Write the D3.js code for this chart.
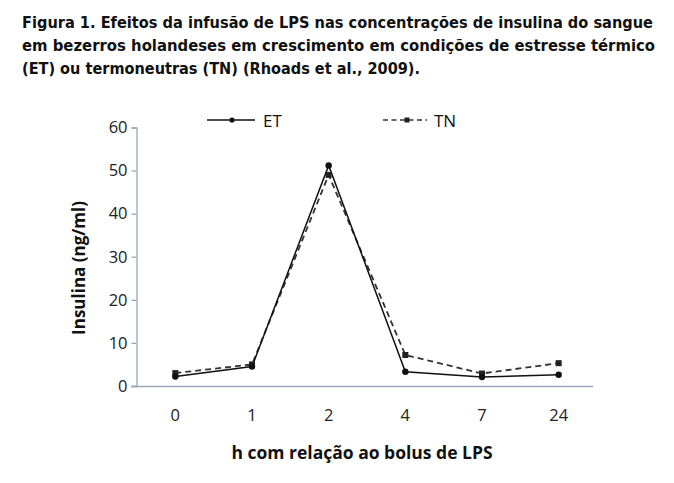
<!DOCTYPE html>
<html>
<head>
<meta charset="utf-8">
<script src="https://cdn.jsdelivr.net/npm/d3@7"></script>
<style>
  body { margin: 0; background: #fff; }
  svg { display: block; }
</style>
</head>
<body>
<div id="chart"></div>
<script>
// Data
var hours = ["0", "1", "2", "4", "7", "24"];
var etValues = [2.2, 4.5, 51.2, 3.3, 2.1, 2.6];
var tnValues = [3.0, 5.0, 49.0, 7.2, 2.9, 5.3];
var yTicks = [0, 10, 20, 30, 40, 50, 60];

var titleLines = [
  "Figura 1. Efeitos da infusão de LPS nas concentrações de insulina do sangue",
  "em bezerros holandeses em crescimento em condições de estresse térmico",
  "(ET) ou termoneutras (TN) (Rhoads et al., 2009)."
];
var titleWidths = [631, 633, 398];

var svgWidth = 674;
var svgHeight = 483;

var svg = d3.select("#chart")
  .append("svg")
  .attr("width", svgWidth)
  .attr("height", svgHeight);

// Title
svg.selectAll(".title")
  .data(titleLines)
  .enter()
  .append("text")
  .attr("class", "title")
  .attr("x", 22)
  .attr("y", (d, i) => 28 + i * 23)
  .attr("font-family", "'DejaVu Sans Condensed', 'Open Sans', sans-serif")
  .attr("font-weight", "bold")
  .attr("font-size", "16.2px")
  .attr("fill", "#111")
  .attr("textLength", (d, i) => titleWidths[i])
  .attr("lengthAdjust", "spacingAndGlyphs")
  .text(d => d);

// Scales
var xScale = d3.scaleBand()
  .domain(hours)
  .range([137, 597]);

var yScale = d3.scaleLinear()
  .domain([0, 60])
  .range([386, 127.5]);

var tickFont = "'Open Sans', 'Noto Sans', sans-serif";
var axisColor = "#9aa7b2";

// Y axis
var yAxis = svg.append("g")
  .attr("transform", "translate(136.5,0)")
  .call(d3.axisLeft(yScale).tickValues(yTicks).tickSize(5).tickPadding(4));
yAxis.select(".domain").attr("stroke", axisColor).attr("stroke-width", 1.3);
yAxis.selectAll(".tick line").attr("stroke", axisColor).attr("stroke-width", 1.3);
yAxis.selectAll(".tick text")
  .attr("font-family", tickFont)
  .attr("font-size", "16.5px")
  .attr("fill", "#222");

// X axis
svg.append("line")
  .attr("x1", 131)
  .attr("x2", 593)
  .attr("y1", 386.5)
  .attr("y2", 386.5)
  .attr("stroke", axisColor)
  .attr("stroke-width", 1.3);

svg.selectAll(".xlab")
  .data(hours)
  .enter()
  .append("text")
  .attr("class", "xlab")
  .attr("x", d => xScale(d) + xScale.bandwidth() / 2)
  .attr("y", 421)
  .attr("text-anchor", "middle")
  .attr("font-family", tickFont)
  .attr("font-size", "16.5px")
  .attr("fill", "#222")
  .text(d => d);

// Lines
var line = d3.line()
  .x((d, i) => xScale(hours[i]) + xScale.bandwidth() / 2)
  .y(d => yScale(d));

svg.append("path")
  .datum(tnValues)
  .attr("fill", "none")
  .attr("stroke", "#333")
  .attr("stroke-width", 1.8)
  .attr("stroke-dasharray", "6,4")
  .attr("d", line);

svg.append("path")
  .datum(etValues)
  .attr("fill", "none")
  .attr("stroke", "#111")
  .attr("stroke-width", 1.5)
  .attr("d", line);

// Markers
svg.selectAll(".tn")
  .data(tnValues)
  .enter()
  .append("rect")
  .attr("class", "tn")
  .attr("x", (d, i) => xScale(hours[i]) + xScale.bandwidth() / 2 - 3)
  .attr("y", d => yScale(d) - 3)
  .attr("width", 6)
  .attr("height", 6)
  .attr("fill", "#222");

svg.selectAll(".et")
  .data(etValues)
  .enter()
  .append("circle")
  .attr("class", "et")
  .attr("cx", (d, i) => xScale(hours[i]) + xScale.bandwidth() / 2)
  .attr("cy", d => yScale(d))
  .attr("r", 3.2)
  .attr("fill", "#111");

// Legend
svg.append("line")
  .attr("x1", 207).attr("x2", 255).attr("y1", 120).attr("y2", 120)
  .attr("stroke", "#111").attr("stroke-width", 1.6);
svg.append("circle")
  .attr("cx", 232).attr("cy", 120).attr("r", 2.6).attr("fill", "#111");
svg.append("text")
  .attr("x", 263).attr("y", 127)
  .attr("font-family", tickFont).attr("font-size", "17px").attr("fill", "#111")
  .text("ET");

svg.append("line")
  .attr("x1", 383).attr("x2", 427).attr("y1", 120).attr("y2", 120)
  .attr("stroke", "#333").attr("stroke-width", 1.6)
  .attr("stroke-dasharray", "5,3.5");
svg.append("rect")
  .attr("x", 404.5).attr("y", 117.5).attr("width", 5).attr("height", 5).attr("fill", "#222");
svg.append("text")
  .attr("x", 434).attr("y", 127)
  .attr("font-family", tickFont).attr("font-size", "17px").attr("fill", "#111")
  .text("TN");

// Axis titles
svg.append("text")
  .attr("transform", "translate(85,268) rotate(-90)")
  .attr("text-anchor", "middle")
  .attr("font-family", "'Open Sans', 'Noto Sans', sans-serif")
  .attr("font-weight", "bold")
  .attr("font-size", "17px")
  .attr("fill", "#111")
  .text("Insulina (ng/ml)");

svg.append("text")
  .attr("x", 362)
  .attr("y", 459)
  .attr("text-anchor", "middle")
  .attr("font-family", "'Open Sans', 'Noto Sans', sans-serif")
  .attr("font-weight", "bold")
  .attr("font-size", "17.5px")
  .attr("fill", "#111")
  .text("h com relação ao bolus de LPS");
</script>
</body>
</html>
